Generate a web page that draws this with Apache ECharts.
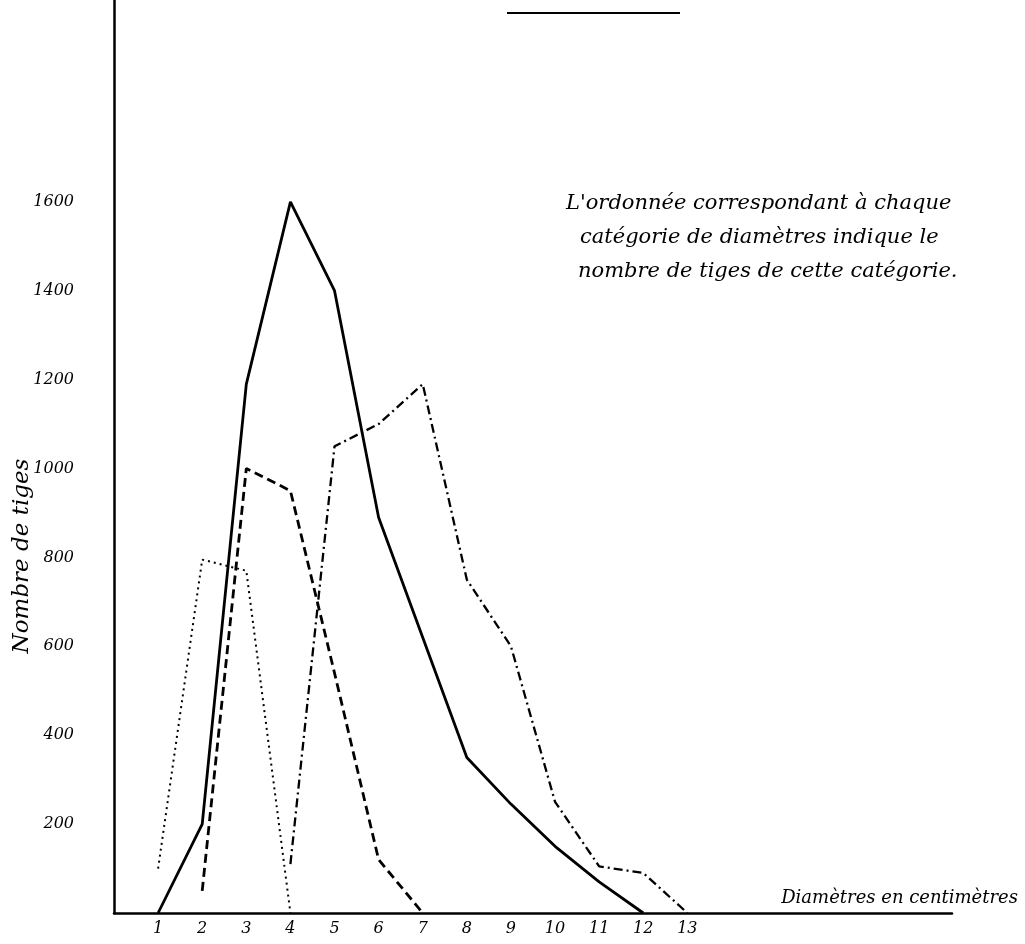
<!DOCTYPE html>
<html>
<head>
<meta charset="utf-8">
<script src="https://cdn.jsdelivr.net/npm/echarts@6/dist/echarts.min.js"></script>
<style>
html,body{margin:0;padding:0;background:#fff;}
#chart{width:1025px;height:944px;}
</style>
</head>
<body>
<div id="chart"></div>
<script>
// Diameter categories (cm) shown on the x axis
const xTickLabels = [1,2,3,4,5,6,7,8,9,10,11,12,13];
// y tick labels
const yTickLabels = [200,400,600,800,1000,1200,1400,1600];

// Solid curve
const solidX = [1,2,3,4,5,6,7,8,9,10,11,12];
const solidVals = [0,200,1190,1600,1400,890,620,350,245,150,70,0];
// Dashed curve
const dashedX = [2,3,4,5,6,7];
const dashedVals = [50,1000,950,540,120,0];
// Dotted curve
const dottedX = [1,2,3,4];
const dottedVals = [100,795,770,0];
// Dash-dot curve
const dashDotX = [4,5,6,7,8,9,10,11,12,13];
const dashDotVals = [110,1050,1100,1190,750,600,250,105,90,0];

const axisTitleX = 'Nombre de tiges';
const axisTitleY = 'Diamètres en centimètres';
const noteLines = [
  "L'ordonnée correspondant à chaque",
  'catégorie de diamètres indique le',
  'nombre de tiges de cette catégorie.'
];

const FONT = 'DejaVu Serif';
const pair = (xs, ys) => xs.map((x, i) => [x, ys[i]]);

const chart = echarts.init(document.getElementById('chart'), null, {renderer: 'canvas'});
const lineBase = {type: 'line', symbol: 'none', smooth: false, z: 3};

chart.setOption({
  backgroundColor: '#ffffff',
  animation: false,
  grid: {left: 114, right: 73, top: 0, bottom: 31, containLabel: false},
  xAxis: {
    type: 'value', min: 0, max: 19, interval: 1,
    axisLine: {show: true, lineStyle: {color: '#000', width: 2.5}},
    axisTick: {show: false},
    splitLine: {show: false},
    axisLabel: {
      color: '#000', fontFamily: FONT, fontStyle: 'italic', fontSize: 16, margin: 8,
      formatter: v => xTickLabels.indexOf(v) >= 0 ? String(v) : ''
    }
  },
  yAxis: {
    type: 'value', min: 0, max: 2054, interval: 200,
    axisLine: {show: true, lineStyle: {color: '#000', width: 2.5}},
    axisTick: {show: false},
    splitLine: {show: false},
    axisLabel: {
      color: '#000', fontFamily: FONT, fontStyle: 'italic', fontSize: 16, margin: 40,
      formatter: v => yTickLabels.indexOf(v) >= 0 ? String(v) : ''
    }
  },
  series: [
    Object.assign({}, lineBase, {name: 'solid', data: pair(solidX, solidVals),
      lineStyle: {color: '#000', width: 2.8, type: 'solid'}}),
    Object.assign({}, lineBase, {name: 'dashed', data: pair(dashedX, dashedVals),
      lineStyle: {color: '#000', width: 2.8, type: [9, 5]}}),
    Object.assign({}, lineBase, {name: 'dotted', data: pair(dottedX, dottedVals),
      lineStyle: {color: '#000', width: 2, type: [2, 4]}}),
    Object.assign({}, lineBase, {name: 'dashdot', data: pair(dashDotX, dashDotVals),
      lineStyle: {color: '#000', width: 2.3, type: [9, 4, 2, 4]}})
  ],
  graphic: [
    {type: 'line', shape: {x1: 507, y1: 13, x2: 680, y2: 13},
      style: {stroke: '#000', lineWidth: 2}},
    {type: 'text', x: 22, y: 556, rotation: Math.PI / 2,
      style: {text: axisTitleX, fill: '#000', font: 'italic 23px "' + FONT + '"',
        textAlign: 'center', textVerticalAlign: 'middle'}},
    {type: 'text', x: 1018, y: 898,
      style: {text: axisTitleY, fill: '#000', font: 'italic 18px "' + FONT + '"',
        textAlign: 'right', textVerticalAlign: 'middle'}},
    {type: 'text', x: 566, y: 204,
      style: {text: noteLines[0], fill: '#000', font: 'italic 21px "' + FONT + '"',
        textAlign: 'left', textVerticalAlign: 'middle'}},
    {type: 'text', x: 580, y: 238,
      style: {text: noteLines[1], fill: '#000', font: 'italic 21px "' + FONT + '"',
        textAlign: 'left', textVerticalAlign: 'middle'}},
    {type: 'text', x: 578, y: 272,
      style: {text: noteLines[2], fill: '#000', font: 'italic 21px "' + FONT + '"',
        textAlign: 'left', textVerticalAlign: 'middle'}}
  ]
});
</script>
</body>
</html>
